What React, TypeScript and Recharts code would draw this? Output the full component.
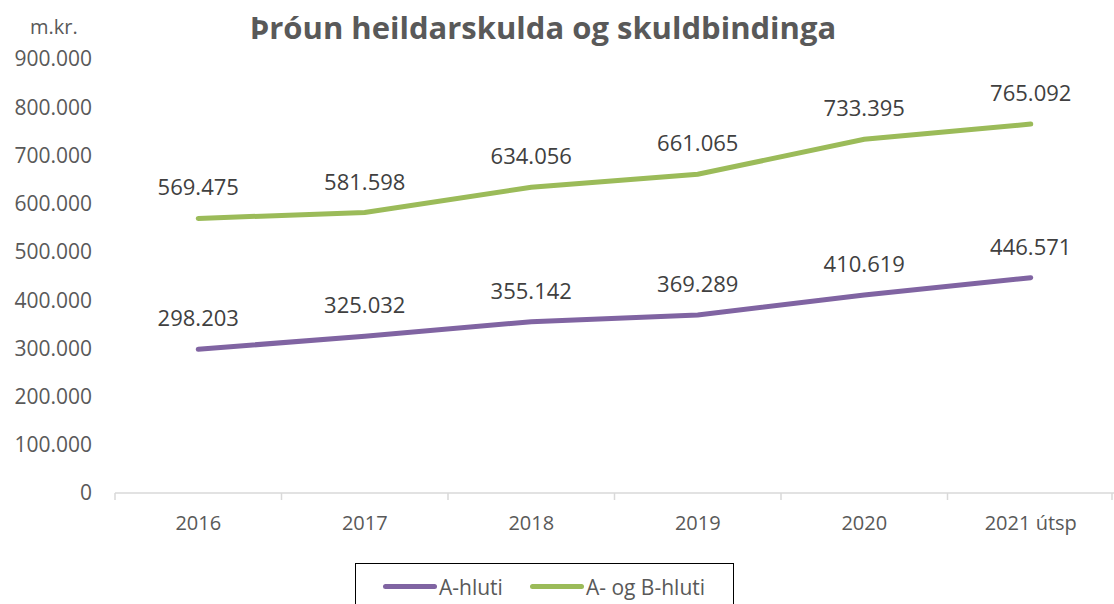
import { LineChart, Line, XAxis, YAxis, Legend, LabelList } from 'recharts'

const years = ['2016', '2017', '2018', '2019', '2020', '2021 útsp']
const aHluti = [298203, 325032, 355142, 369289, 410619, 446571]
const abHluti = [569475, 581598, 634056, 661065, 733395, 765092]
const yTicks = [0, 100000, 200000, 300000, 400000, 500000, 600000, 700000, 800000, 900000]

const data = years.map((year, i) => ({ year, a: aHluti[i], ab: abHluti[i] }))

const PURPLE = '#8064A2'
const GREEN = '#9BBB59'
const TEXT = '#595959'
const FONT = '"Open Sans", sans-serif'

const W = 1114
const H = 604
const LEFT = 115
const PLOT_W = W - LEFT
const HALF_BAND = PLOT_W / years.length / 2

const fmt = (v: number) => String(v).replace(/\B(?=(\d{3})+(?!\d))/g, '.')

function XTick(props: any) {
  const { x, y, payload, index } = props
  const last = index === years.length - 1
  return (
    <g>
      <line x1={x - HALF_BAND} x2={x - HALF_BAND} y1={y - 8} y2={y - 1} stroke="#d9d9d9" strokeWidth={1.5} />
      {last && (
        <line x1={x + HALF_BAND - 2} x2={x + HALF_BAND - 2} y1={y - 8} y2={y - 1} stroke="#d9d9d9" strokeWidth={1.5} />
      )}
      <text x={x} y={y + 21} textAnchor="middle" dominantBaseline="central" fill={TEXT} fontSize={20} fontFamily={FONT}>
        {payload.value}
      </text>
    </g>
  )
}

function LegendBox() {
  const item = (color: string, label: string) => (
    <span style={{ display: 'inline-flex', alignItems: 'center', marginRight: 27 }}>
      <span style={{ display: 'inline-block', width: 54, height: 5, borderRadius: 3, background: color }} />
      <span style={{ marginLeft: 2 }}>{label}</span>
    </span>
  )
  return (
    <div
      style={{
        border: '1.5px solid #000',
        boxSizing: 'border-box',
        height: 50,
        padding: '3px 0 0 27px',
        fontFamily: FONT,
        fontSize: 21,
        color: TEXT,
        whiteSpace: 'nowrap',
        background: '#fff',
      }}
    >
      {item(PURPLE, 'A-hluti')}
      {item(GREEN, 'A- og B-hluti')}
    </div>
  )
}

export default function App() {
  return (
    <div style={{ position: 'absolute', left: 0, top: 0, width: W, height: H, background: '#fff', overflow: 'hidden' }}>
      <div
        style={{
          position: 'absolute', left: 30, top: 13, fontFamily: FONT, fontSize: 20, color: TEXT,
        }}
      >
        m.kr.
      </div>
      <div
        style={{
          position: 'absolute', left: 0, width: 1086, top: 6, textAlign: 'center',
          fontFamily: FONT, fontWeight: 700, fontSize: 31, color: TEXT,
        }}
      >
        Þróun heildarskulda og skuldbindinga
      </div>
      <LineChart width={W} height={H} data={data} margin={{ top: 59, right: 0, bottom: 21, left: 0 }}>
        <XAxis
          dataKey="year"
          scale="band"
          axisLine={{ stroke: '#d9d9d9', strokeWidth: 1.5 }}
          tickLine={false}
          tick={<XTick />}
          interval={0}
          height={40}
        />
        <YAxis
          width={LEFT}
          domain={[0, 900000]}
          ticks={yTicks}
          tickFormatter={fmt}
          axisLine={false}
          tickLine={false}
          tickMargin={17}
          tick={{ fill: TEXT, fontSize: 21, fontFamily: FONT }}
          interval={0}
        />
        <Legend
          layout="vertical"
          align="center"
          verticalAlign="bottom"
          wrapperStyle={{ left: 355, top: 563, width: 379, bottom: 'auto' }}
          content={() => <LegendBox />}
        />
        <Line
          dataKey="a"
          name="A-hluti"
          stroke={PURPLE}
          strokeWidth={5}
          strokeLinecap="round"
          dot={false}
          isAnimationActive={false}
        >
          <LabelList dataKey="a" position="top" offset={23} formatter={(v: any) => fmt(v)} fill="#404040" fontSize={22} fontFamily={FONT} />
        </Line>
        <Line
          dataKey="ab"
          name="A- og B-hluti"
          stroke={GREEN}
          strokeWidth={5}
          strokeLinecap="round"
          dot={false}
          isAnimationActive={false}
        >
          <LabelList dataKey="ab" position="top" offset={23} formatter={(v: any) => fmt(v)} fill="#404040" fontSize={22} fontFamily={FONT} />
        </Line>
      </LineChart>
    </div>
  )
}
